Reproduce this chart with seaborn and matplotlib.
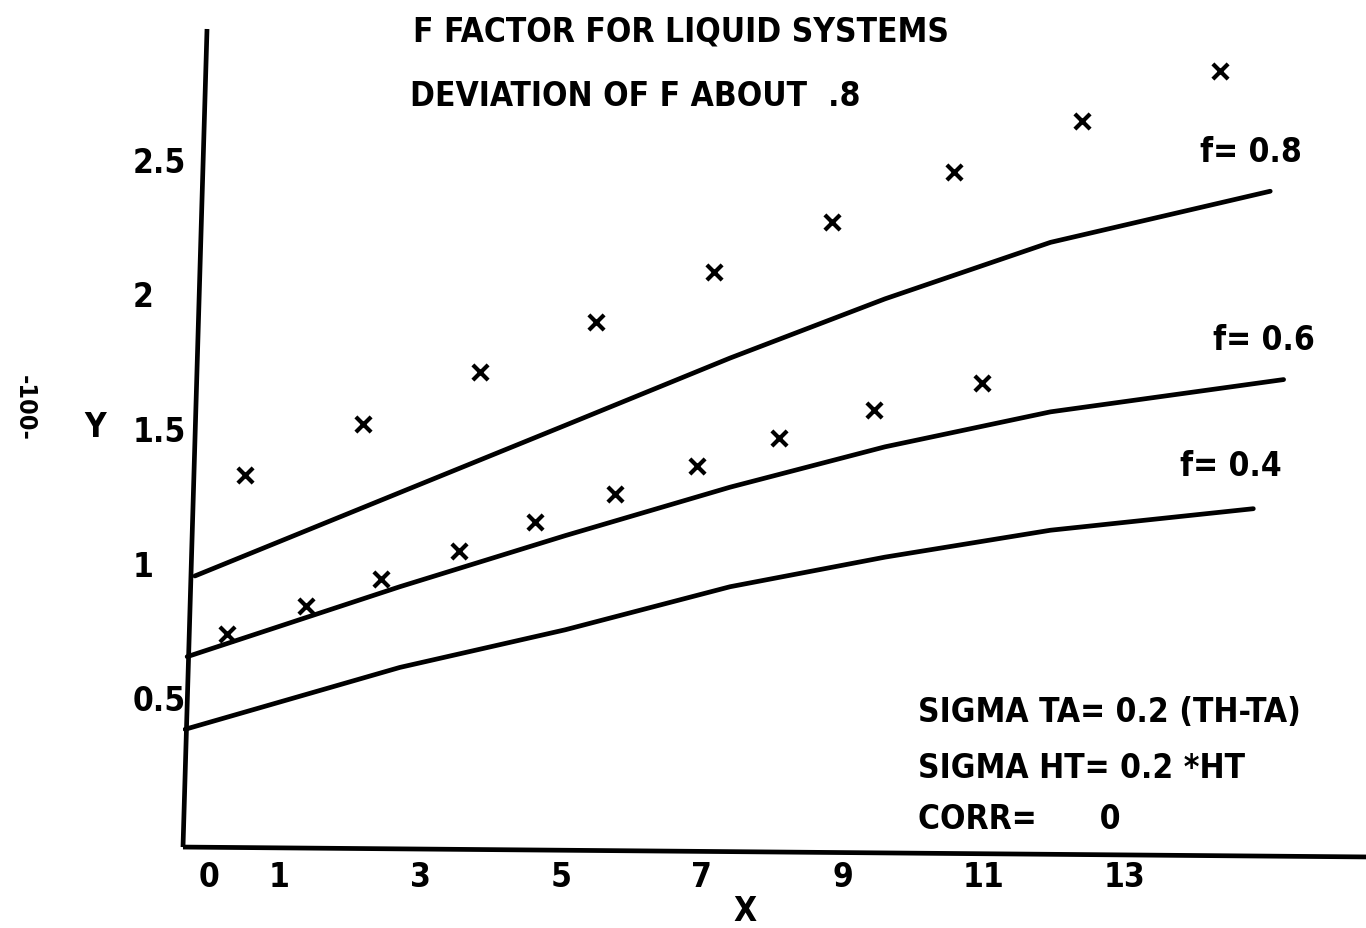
import matplotlib
matplotlib.use("Agg")
import matplotlib.pyplot as plt
import seaborn as sns
import pandas as pd

# ---- data ----
f08_x = [-0.20, 2.71, 5.06, 7.40, 9.60, 11.95, 15.07]
f08_y = [0.95, 1.26, 1.51, 1.76, 1.98, 2.19, 2.38]
f06_x = [-0.31, 2.71, 5.06, 7.40, 9.60, 11.95, 15.26]
f06_y = [0.65, 0.91, 1.10, 1.28, 1.43, 1.56, 1.68]
f04_x = [-0.34, 2.71, 5.06, 7.40, 9.60, 11.95, 14.83]
f04_y = [0.38, 0.61, 0.75, 0.91, 1.02, 1.12, 1.20]

upper_x = [0.51, 2.19, 3.85, 5.50, 7.17, 8.85, 10.58, 12.40, 14.36]
upper_y = [1.325, 1.515, 1.708, 1.894, 2.080, 2.266, 2.452, 2.642, 2.828]
lower_x = [0.26, 1.38, 2.44, 3.55, 4.63, 5.77, 6.93, 8.10, 9.45, 10.97]
lower_y = [0.734, 0.838, 0.939, 1.043, 1.151, 1.255, 1.359, 1.463, 1.567, 1.667]

x_ticks = [0, 1, 3, 5, 7, 9, 11, 13]
x_tick_labels = ["0", "1", "3", "5", "7", "9", "11", "13"]
y_ticks = [0.5, 1, 1.5, 2, 2.5]
y_tick_labels = ["0.5", "1", "1.5", "2", "2.5"]

curve_labels = ["f= 0.8", "f= 0.6", "f= 0.4"]
titles = ["F FACTOR FOR LIQUID SYSTEMS", "DEVIATION OF F ABOUT  .8"]
notes = ["SIGMA TA= 0.2 (TH-TA)", "SIGMA HT= 0.2 *HT", "CORR=      0"]

# ---- style ----
sns.set_theme(style="white")
FONT = ["DejaVu Sans", "Liberation Sans"]
plt.rcParams["font.family"] = FONT
plt.rcParams["font.weight"] = "bold"
plt.rcParams["text.color"] = "black"
plt.rcParams["xtick.color"] = "black"
plt.rcParams["ytick.color"] = "black"

W, H = 1366, 929
fig = plt.figure(figsize=(W / 100, H / 100), dpi=100)
fig.patch.set_facecolor("white")
ax = fig.add_axes([183 / W, 1 - 853 / H, (1366 - 183) / W, (853 - 30) / H])
ax.set_facecolor("white")

curves = pd.DataFrame({
    "x": f08_x + f06_x + f04_x,
    "y": f08_y + f06_y + f04_y,
    "f": [0.8] * len(f08_x) + [0.6] * len(f06_x) + [0.4] * len(f04_x),
})
sns.lineplot(data=curves, x="x", y="y", units="f", estimator=None, sort=False,
             color="black", lw=3.4, ax=ax, legend=False)

pts = pd.DataFrame({"x": upper_x + lower_x, "y": upper_y + lower_y})
sns.scatterplot(data=pts, x="x", y="y", marker="x", s=120, color="black",
                linewidth=3.0, ax=ax, legend=False, zorder=5)

ax.set_xlim(-0.369, 16.43)
ax.set_ylim(-0.076, 2.983)
for s in ax.spines.values():
    s.set_visible(False)

# slanted hand-drawn-like axes lines (decoration)
ax.plot([0.0203, 0.0], [1.0, 0.006], transform=ax.transAxes, color="black",
        lw=3.4, clip_on=False, solid_capstyle="butt")
ax.plot([0.0, 1.0], [0.006, -0.006], transform=ax.transAxes, color="black",
        lw=3.4, clip_on=False, solid_capstyle="butt")

ax.set_xticks(x_ticks)
ax.set_xticklabels(x_tick_labels, fontsize=24, fontweight="bold",
                   stretch="condensed", color="black")
ax.set_yticks(y_ticks)
ax.set_yticklabels(y_tick_labels, fontsize=24, fontweight="bold",
                   stretch="condensed", color="black")
ax.tick_params(axis="x", length=0, pad=6, labelcolor="black")
ax.tick_params(axis="y", length=0, pad=36, labelcolor="black")
for lab in ax.get_yticklabels():
    lab.set_horizontalalignment("left")
ax.set_xlabel("")
ax.set_ylabel("")


def ptext(x, y, s, ha="left", rot=0, size=24):
    fig.text(x / W, 1 - y / H, s, ha=ha, va="center", fontsize=size,
             fontweight="bold", rotation=rot, stretch="condensed", color="black")


ptext(413, 32, titles[0])
ptext(410, 97, titles[1])
ptext(1200, 153, curve_labels[0])
ptext(1213, 341, curve_labels[1])
ptext(1180, 467, curve_labels[2])
ptext(918, 713, notes[0])
ptext(918, 768, notes[1])
ptext(918, 820, notes[2])
ptext(745, 912, "X", ha="center")
ptext(95, 428, "Y", ha="center")
ptext(25, 408, "-100-", ha="center", rot=270, size=18)

fig.savefig("out.png", dpi=100, facecolor="white")
